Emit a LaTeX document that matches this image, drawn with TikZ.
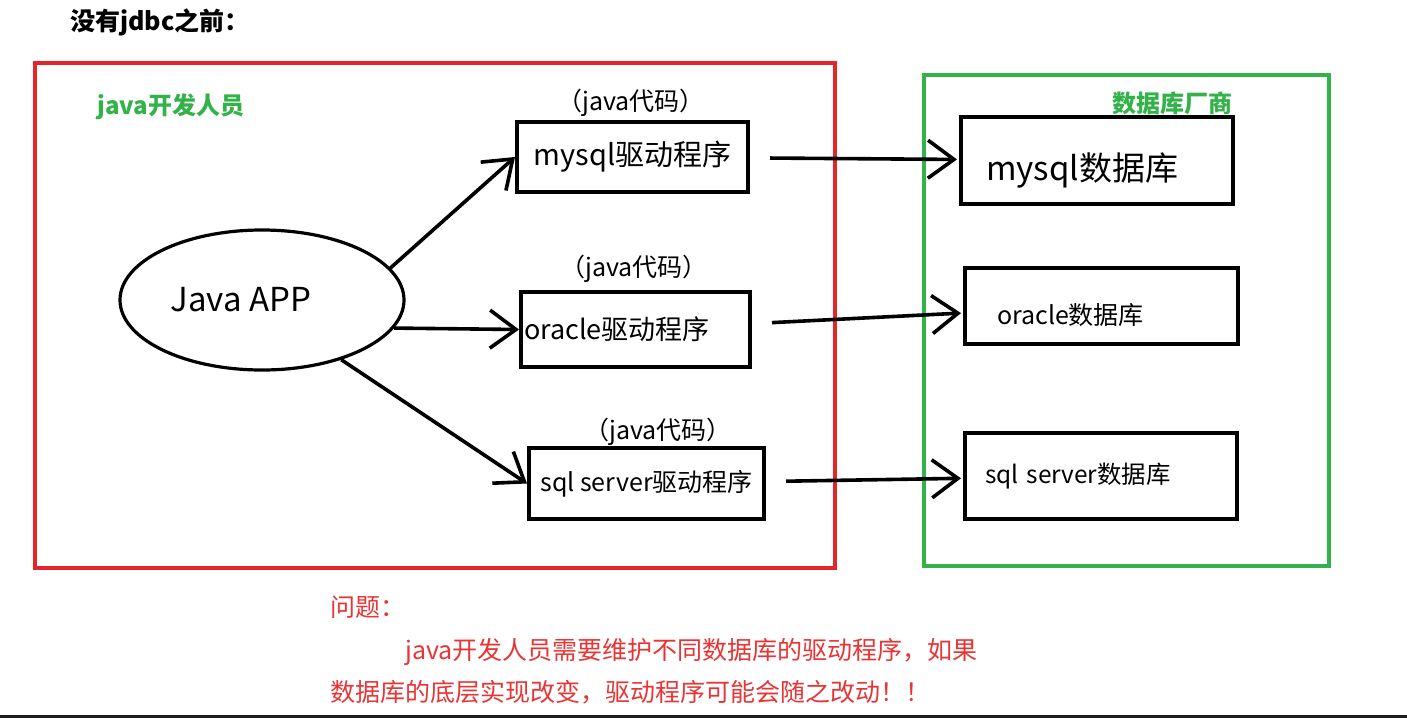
\documentclass[tikz,border=0pt]{standalone}
\usepackage{fontspec}
\setmainfont{Noto Sans CJK SC}
\usetikzlibrary{arrows.meta,shapes.geometric}
\definecolor{framered}{RGB}{228,38,42}
\definecolor{framegreen}{RGB}{52,178,74}
\definecolor{notered}{RGB}{232,52,52}
\definecolor{barblack}{RGB}{28,28,28}
\tikzset{ %sizes in pt, positions in px
  >={Straight Barb[length=13pt,width=19pt]},
  {app/.style} ={ellipse,draw,line width=1.6pt,minimum width=142pt,
                 minimum height=70pt,font=\fontsize{16.5}{19}\selectfont},
  {drv/.style} ={rectangle,draw,line width=2pt,inner sep=0,
                 font=\fontsize{#1}{15}\selectfont},
  drv/.default = 12,
  {db/.style} ={drv=#1,align=left},
  {link/.style} ={line width=1.8pt,->},
  {javacode/.style} ={font=\fontsize{12.5}{14}\selectfont},
  {frame/.style} ={draw,line width=1.6pt},
  {plain text/.style} ={inner sep=0,anchor=west},
  {greenhead/.style} ={plain text,text=framegreen,font=\fontsize{12}{14}\selectfont\bfseries},
  {note/.style} ={plain text,text=notered,font=\fontsize{12.5}{14}\selectfont},
}

\begin{document}
\begin{tikzpicture}[x=0.5pt,y=-0.5pt]
\useasboundingbox (0,0) rectangle (1407,718);
\fill[barblack] (0,715) rectangle (1407,718);
\node[plain text,font=\fontsize{12.5}{14}\selectfont\bfseries] (title) at (70,22) {没有jdbc之前：};
% frames
\draw[frame,framered] (35,63) rectangle (835,568);
\draw[frame,framegreen] (924,75) rectangle (1329,566);
\node[greenhead] (dev) at (97,107) {java开发人员};
\node[greenhead] (vendor) at (1112,103) {数据库厂商};
% java side
\node[app] (app) at (262,300) {Java APP\hspace*{21pt}};
\node[drv=14.5,minimum width=115.5pt,minimum height=35pt] (mysqldrv) at (632.5,157) {mysql驱动程序};
\node[db=13.5,text width=111.5pt,inner xsep=1.5pt,minimum height=37.5pt] (oracledrv) at (635.5,329.5) {oracle驱动程序};
\node[drv=12.5,minimum width=117.5pt,minimum height=35.5pt] (sqldrv) at (646.5,483.5) {sql server驱动程序};
\node[javacode] (code1) at (631,103) {（java代码）};
\node[javacode] (code2) at (634,269) {（java代码）};
\node[javacode] (code3) at (658,432) {（java代码）};
% database side
\node[db=16.5,text width=111pt,inner xsep=12.5pt,minimum height=43.5pt,
      text height=23.5pt,text depth=3.5pt] (mysqldb) at (1097,160.5) {mysql数据库};
\node[db=12.5,text width=104.5pt,inner xsep=16pt,minimum height=38pt,
      text height=21pt,text depth=2.5pt] (oracledb) at (1101.5,306) {oracle数据库};
\node[db=12.2,text width=116pt,inner xsep=10pt,minimum height=43pt] (sqldb) at (1101,476) {sql server数据库};
\path[link] (app.14) edge (mysqldrv.west)
            (app.-12) edge (oracledrv.west)
            (app.-37) edge (sqldrv.west);
\path[link,shorten <=10pt,shorten >=1pt] (mysqldrv) edge (mysqldb)
            (oracledrv) edge (oracledb)
            (sqldrv) edge (sqldb);
% problem note
\node[note] (q) at (330,607) {问题：};
\node[note] (q1) at (405,652) {java开发人员需要维护不同数据库的驱动程序，如果};
\node[note] (q2) at (330,692) {数据库的底层实现改变，驱动程序可能会随之改动！！};
\end{tikzpicture}
\end{document}
